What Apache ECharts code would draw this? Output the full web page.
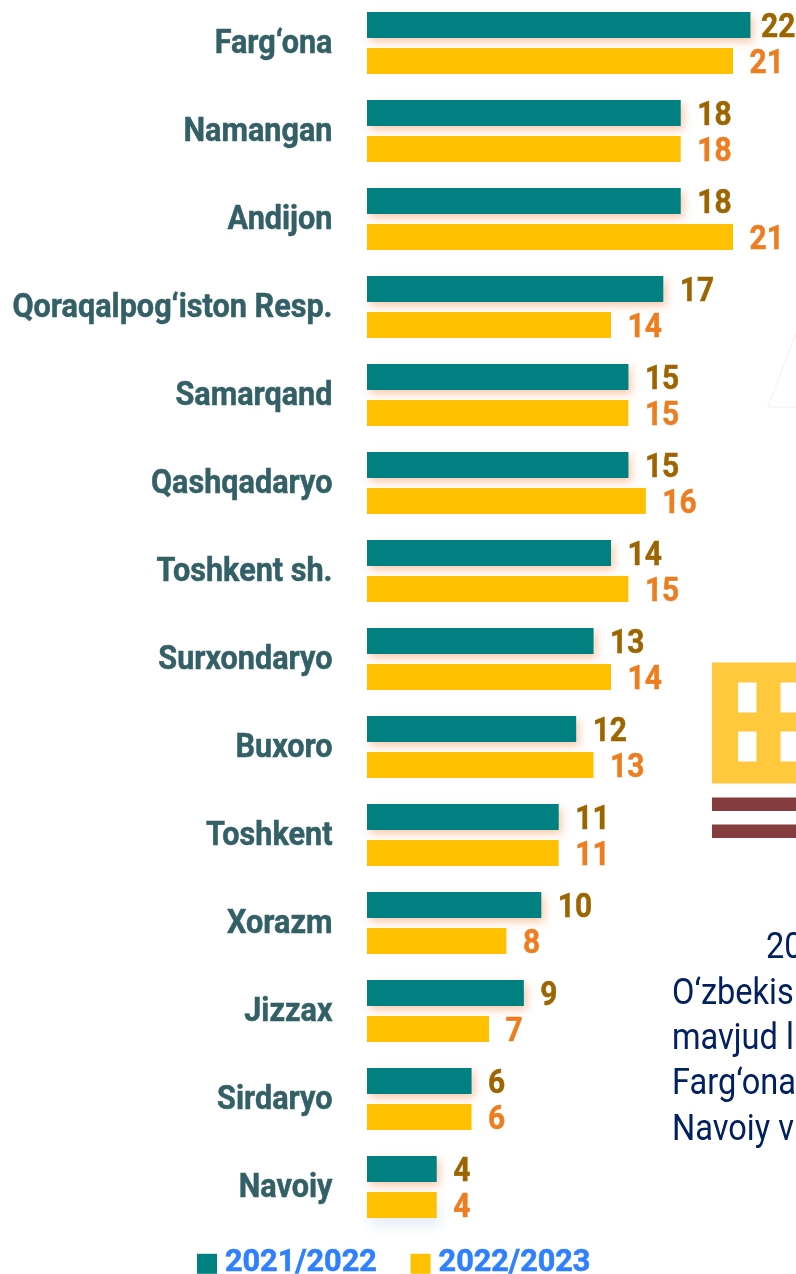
<!DOCTYPE html>
<html>
<head>
<meta charset="utf-8">
<script src="https://cdn.jsdelivr.net/npm/echarts@6/dist/echarts.min.js"></script>
<style>
  html, body { margin: 0; padding: 0; background: #fff; overflow: hidden; }
  #chart { width: 796px; height: 1274px; }
</style>
</head>
<body>
<div id="chart"></div>
<script>
const regions = [
  "Farg‘ona", "Namangan", "Andijon", "Qoraqalpog‘iston Resp.", "Samarqand",
  "Qashqadaryo", "Toshkent sh.", "Surxondaryo", "Buxoro", "Toshkent",
  "Xorazm", "Jizzax", "Sirdaryo", "Navoiy",
];
const year1 = [22, 18, 18, 17, 15, 15, 14, 13, 12, 11, 10, 9, 6, 4];
const year2 = [21, 18, 21, 14, 15, 16, 15, 14, 13, 11, 8, 7, 6, 4];
const sideText = ["20", "O‘zbekis", "mavjud l", "Farg‘ona", "Navoiy v"];
const textX = [766, 672, 672, 672, 672];
const textY = [948.5, 994.5, 1039.5, 1084.5, 1130.5];

const chart = echarts.init(document.getElementById("chart"), null, { renderer: "canvas" });

function rect(x, y, width, height, fill) {
  return { type: "rect", silent: true, shape: { x, y, width, height }, style: { fill } };
}

// no condensed font is installed, so Roboto bold gets squeezed horizontally
function squeezed(text, x, y, fill, align, scale) {
  return {
    type: "text",
    x: x,
    y: y,
    scaleX: scale,
    style: {
      text: text,
      fill: fill,
      stroke: fill,
      lineWidth: 0.5,
      fontFamily: "Roboto",
      fontWeight: "bold",
      fontSize: 34,
      align: align,
      verticalAlign: "middle",
    },
  };
}

function valueLabels(name, values, offsetY, color) {
  return {
    name: name,
    type: "custom",
    data: values.map((v, i) => [v, i]),
    encode: { x: 0, y: 1 },
    renderItem: (params, api) => {
      const p = api.coord([api.value(0), api.value(1)]);
      // the longest bar's label is pulled back so it stays on the page
      const x = Math.min(p[0] + 16.5, 761);
      return squeezed(String(api.value(0)), x, p[1] + offsetY, color, "left", 0.88);
    },
  };
}

chart.setOption({
  backgroundColor: "#fff",
  animation: false,
  legend: {
    left: 192,
    top: 1243,
    itemWidth: 20,
    itemHeight: 20,
    itemGap: 33.5,
    icon: "rect",
    textStyle: {
      color: "#2F80FF",
      fontFamily: "Roboto",
      fontWeight: "bold",
      fontSize: 30.6,
      textBorderColor: "#2F80FF",
      textBorderWidth: 0.6,
      padding: [0, 0, 0, 3],
    },
    data: ["2021/2022", "2022/2023"],
  },
  grid: { left: 367, top: -1, width: 418.3, height: 1232, outerBoundsMode: "none" },
  xAxis: { type: "value", min: 0, max: 24, show: false },
  yAxis: {
    type: "category",
    inverse: true,
    data: regions,
    axisLine: { show: false },
    axisTick: { show: false },
    axisLabel: { show: false },
  },
  series: [
    {
      name: "2021/2022",
      type: "bar",
      data: year1,
      barWidth: 26,
      barGap: "38.5%",
      itemStyle: {
        color: "#008080",
        shadowColor: "rgba(237,125,49,0.4)",
        shadowBlur: 9,
        shadowOffsetX: 3,
        shadowOffsetY: 4,
      },
    },
    {
      name: "2022/2023",
      type: "bar",
      data: year2.map((v, i) =>
        i === year2.length - 1
          ? {
              value: v,
              itemStyle: {
                shadowColor: "rgba(68,114,196,0.13)",
                shadowBlur: 12,
                shadowOffsetX: 3,
                shadowOffsetY: 8,
              },
            }
          : v
      ),
      barWidth: 26,
      itemStyle: { color: "#FFC000" },
    },
    {
      name: "regions",
      type: "custom",
      data: regions.map((r, i) => [0, i]),
      encode: { x: 0, y: 1 },
      renderItem: (params, api) => {
        const p = api.coord([0, api.value(1)]);
        return squeezed(regions[api.value(1)], p[0] - 34.5, p[1] + 1, "#336066", "right", 0.9);
      },
    },
    valueLabels("labels1", year1, -14.5, "#9C6500"),
    valueLabels("labels2", year2, 21.5, "#ED7D1F"),
  ],
  graphic: [
    // building icon cut off by the right edge
    rect(712, 662.5, 84, 121, "#FFC83D"),
    rect(738, 682.5, 18.5, 30, "#fff"),
    rect(780.5, 682.5, 16, 30, "#fff"),
    rect(738, 731.5, 18.5, 30, "#fff"),
    rect(780.5, 731.5, 16, 30, "#fff"),
    rect(712, 797.5, 84, 13.5, "#843C3C"),
    rect(712, 824.5, 84, 13.5, "#843C3C"),
    {
      type: "polyline",
      silent: true,
      shape: { points: [[796, 333], [768, 407], [796, 407]] },
      style: { stroke: "#f6f6f6", fill: null, lineWidth: 1.5 },
    },
    ...sideText.map((t, i) => ({
      type: "text",
      silent: true,
      x: textX[i],
      y: textY[i],
      scaleX: 0.88,
      style: {
        text: t,
        fill: "#002060",
        fontFamily: "Roboto",
        fontSize: 37,
        verticalAlign: "middle",
      },
    })),
  ],
});
</script>
</body>
</html>
